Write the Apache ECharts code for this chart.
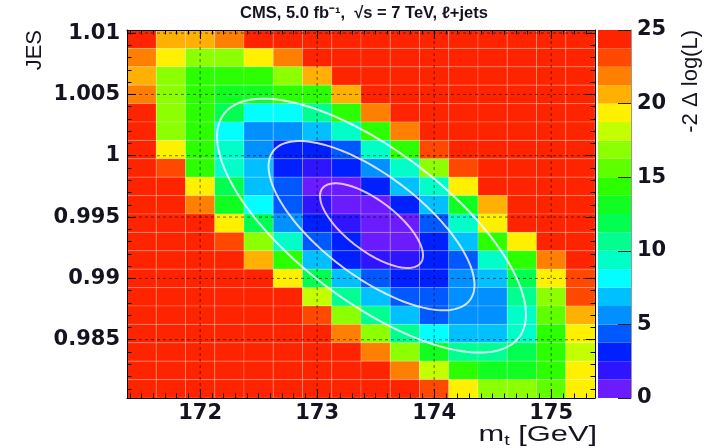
<!DOCTYPE html>
<html><head><meta charset="utf-8">
<script src="https://cdn.jsdelivr.net/npm/echarts@6/dist/echarts.min.js"></script>
<style>html,body{margin:0;padding:0;background:#fff}#c{width:719px;height:448px}</style>
</head><body><div id="c"></div>
<script>
// ---- data ----
const mtBins = [171.5,171.75,172,172.25,172.5,172.75,173,173.25,173.5,173.75,174,174.25,174.5,174.75,175,175.25];
const jesBins = [1.0095,1.008,1.0065,1.005,1.0035,1.002,1.0005,0.999,0.9975,0.996,0.9945,0.993,0.9915,0.99,0.9885,0.987,0.9855,0.984,0.9825,0.981];
// -2 delta log(L), rows follow jesBins (top to bottom), columns follow mtBins
const nll = [
 [25,20.6,20.6,21.9,25,25,25,25,25,25,25,25,25,25,25,25],
 [21.9,19.4,16.9,16.9,19.4,21.9,25,25,25,25,25,25,25,25,25,25],
 [20.6,16.9,14.4,14.4,14.4,16.9,20.6,25,25,25,25,25,25,25,25,25],
 [21.9,16.9,14.4,13.1,13.1,14.4,14.4,20.6,25,25,25,25,25,25,25,25],
 [25,16.9,14.4,11.9,8.1,8.1,10.6,14.4,21.9,25,25,25,25,25,25,25],
 [25,16.9,14.4,8.1,5.6,5.6,6.9,9.4,14.4,21.9,25,25,25,25,25,25],
 [25,19.4,14.4,9.4,5.6,3.1,3.1,4.4,9.4,14.4,23.1,25,25,25,25,25],
 [25,23.1,14.4,9.4,6.9,3.1,1.9,3.1,5.6,9.4,16.9,23.1,25,25,25,25],
 [25,25,19.4,11.9,6.9,4.4,0.6,0.6,3.1,6.9,9.4,19.4,25,25,25,25],
 [25,25,21.9,13.1,8.1,4.4,1.9,0.6,0.6,3.1,6.9,13.1,20.6,25,25,25],
 [25,25,25,19.4,11.9,5.6,3.1,1.9,0.6,0.6,4.4,9.4,19.4,25,25,25],
 [25,25,25,23.1,16.9,9.4,4.4,3.1,0.6,0.6,3.1,6.9,14.4,19.4,25,25],
 [25,25,25,25,20.6,14.4,6.9,3.1,1.9,1.9,3.1,4.4,9.4,14.4,21.9,25],
 [25,25,25,25,25,19.4,11.9,6.9,4.4,3.1,3.1,5.6,6.9,11.9,19.4,23.1],
 [25,25,25,25,25,25,18.1,10.6,6.9,4.4,4.4,5.6,5.6,10.6,16.9,23.1],
 [25,25,25,25,25,25,23.1,16.9,10.6,6.9,4.4,5.6,5.6,9.4,15.6,20.6],
 [25,25,25,25,25,25,25,21.9,16.9,10.6,8.1,6.9,6.9,9.4,14.4,19.4],
 [25,25,25,25,25,25,25,25,21.9,16.9,13.1,10.6,10.6,11.9,14.4,18.1],
 [25,25,25,25,25,25,25,25,25,21.9,18.1,14.4,13.1,13.1,14.4,19.4],
 [25,25,25,25,25,25,25,25,25,25,23.1,19.4,16.9,16.9,15.6,19.4]
];
const xTicks = [172,173,174,175];
const xTickLabels = ['172','173','174','175'];
const yTicks = [0.985,0.99,0.995,1,1.005,1.01];
const yTickLabels = ['0.985','0.99','0.995','1','1.005','1.01'];
const zEdges = [0,1.25,2.5,3.75,5,6.25,7.5,8.75,10,11.25,12.5,13.75,15,16.25,17.5,18.75,20,21.25,22.5,23.75,25];
const zPalette = ['#6a1cff','#2e14ff','#0020ff','#0058ff','#0090ff','#00c0ff','#00ffff','#00ffc8','#00ff90','#00ff50',
                  '#10ff20','#2cff00','#60ff00','#8cff00','#c4ff00','#fff000','#ffb000','#ff8000','#ff4800','#ff2400'];
const zTicks = [0,5,10,15,20,25];
const contourLevels = [1,4,9];
const contourColors = ['rgba(255,215,255,0.85)','rgba(242,242,255,0.85)','rgba(230,255,255,0.9)'];
const fitMt = 173.465, fitJes = 0.9943, sigMt = 0.44, sigJes = 0.00345, rhoFit = -0.7;

// ---- derived ----
const halfMt = Math.abs(mtBins[1]-mtBins[0])/2;
const halfJes = Math.abs(jesBins[0]-jesBins[1])/2;
const xMin = mtBins[0]-halfMt, xMax = mtBins[mtBins.length-1]+halfMt;
const yMin = jesBins[jesBins.length-1]-halfJes, yMax = jesBins[0]+halfJes;
const xMinor = []; for (let v=Math.ceil(xMin*10); v<=Math.floor(xMax*10); v++) xMinor.push(v/10);
const yMinor = []; for (let v=Math.ceil(yMin*1000); v<=Math.floor(yMax*1000); v++) yMinor.push(v/1000);

const cells = [];
jesBins.forEach((y,j)=>mtBins.forEach((x,i)=>cells.push([x,y,nll[j][i]])));

const pieces = zPalette.map((c,k)=> k===zPalette.length-1 ? {gte:zEdges[k], color:c} : {gte:zEdges[k], lt:zEdges[k+1], color:c});

const LAB = {fontFamily:'DejaVu Sans', fontWeight:'bold', fontSize:21, color:'#141420'};
const frameLine = {show:true, onZero:false, lineStyle:{color:'#000', width:1}};
function findLabel(v, ticks, labels){ for (let k=0;k<ticks.length;k++) if (Math.abs(ticks[k]-v)<1e-9) return labels[k]; return ''; }

function xAx(pos, ticks, len, labels, line){
  return {gridIndex:0, type:'value', min:xMin, max:xMax, position:pos, z:10,
    axisLine: line ? frameLine : {show:false, onZero:false},
    axisTick:{show:true, inside:true, length:len, customValues:ticks, lineStyle:{color:'#000', width:1}},
    axisLabel: labels ? Object.assign({show:true, customValues:xTicks, margin:5, formatter:v=>findLabel(v,xTicks,xTickLabels)}, LAB) : {show:false},
    splitLine:{show:false}};
}
function yAx(pos, ticks, len, labels, line){
  return {gridIndex:0, type:'value', min:yMin, max:yMax, position:pos, z:10,
    axisLine: line ? frameLine : {show:false, onZero:false},
    axisTick:{show:true, inside:true, length:len, customValues:ticks, lineStyle:{color:'#000', width:1}},
    axisLabel: labels ? Object.assign({show:true, customValues:yTicks, margin:7, formatter:v=>findLabel(v,yTicks,yTickLabels)}, LAB) : {show:false},
    splitLine:{show:false}};
}
const dashStyle = {stroke:'rgba(0,0,0,0.55)', lineWidth:1, lineDash:[3,3]};

const chart = echarts.init(document.getElementById('c'), null, {renderer:'canvas'});
chart.setOption({
  animation:false,
  backgroundColor:'#fff',
  grid:[
    {left:127, top:30, width:468, height:368},
    {left:598, top:30, width:33, height:368}
  ],
  xAxis:[
    xAx('bottom', xTicks, 9, true, true),
    xAx('bottom', xMinor, 4.5, false, false),
    xAx('top', xTicks, 9, false, true),
    xAx('top', xMinor, 4.5, false, false),
    {gridIndex:1, type:'value', min:0, max:1, show:false}
  ],
  yAxis:[
    yAx('left', yTicks, 9, true, true),
    yAx('left', yMinor, 4.5, false, false),
    yAx('right', yTicks, 9, false, true),
    yAx('right', yMinor, 4.5, false, false),
    {gridIndex:1, type:'value', min:0, max:25, interval:5, position:'right', z:10,
     axisLine:{show:true, onZero:false, lineStyle:{color:'#999', width:1}},
     axisTick:{show:true, inside:true, length:13, lineStyle:{color:'#222', width:1}},
     axisLabel:Object.assign({margin:6}, LAB),
     splitLine:{show:false}}
  ],
  visualMap:{type:'piecewise', show:false, seriesIndex:0, dimension:2, pieces:pieces},
  series:[
    {type:'custom', name:'-2ΔlogL', xAxisIndex:0, yAxisIndex:0, clip:true, data:cells, z:1,
     renderItem:function(params, api){
       const x = api.value(0), y = api.value(1);
       const p0 = api.coord([x-halfMt, y+halfJes]);
       const p1 = api.coord([x+halfMt, y-halfJes]);
       return {type:'rect', shape:{x:p0[0], y:p0[1], width:p1[0]-p0[0], height:p1[1]-p0[1]},
               style:{fill:api.visual('color'), stroke:'rgba(255,255,255,0.25)', lineWidth:0.8}};
     }},
    {type:'custom', name:'scale', xAxisIndex:4, yAxisIndex:4, silent:true, z:1,
     data: zPalette.map((c,k)=>[0.5, zEdges[k], zEdges[k+1]]),
     renderItem:function(params, api){
       const p0 = api.coord([0, api.value(2)]);
       const p1 = api.coord([1, api.value(1)]);
       return {type:'rect', shape:{x:p0[0], y:p0[1], width:p1[0]-p0[0], height:p1[1]-p0[1]},
               style:{fill:zPalette[params.dataIndex], stroke:null}};
     }},
    {type:'custom', name:'gridX', xAxisIndex:0, yAxisIndex:0, silent:true, z:3,
     data: xTicks.map(v=>[v, yMin]),
     renderItem:function(params, api){
       const a = api.coord([api.value(0), yMin]), b = api.coord([api.value(0), yMax]);
       return {type:'line', shape:{x1:a[0], y1:a[1], x2:b[0], y2:b[1]}, style:dashStyle};
     }},
    {type:'custom', name:'gridY', xAxisIndex:0, yAxisIndex:0, silent:true, z:3,
     data: yTicks.map(v=>[xMin, v]),
     renderItem:function(params, api){
       const a = api.coord([xMin, api.value(1)]), b = api.coord([xMax, api.value(1)]);
       return {type:'line', shape:{x1:a[0], y1:a[1], x2:b[0], y2:b[1]}, style:dashStyle};
     }},
    {type:'custom', name:'contours', xAxisIndex:0, yAxisIndex:0, clip:true, silent:true, z:5,
     data: contourLevels.map(l=>[fitMt, fitJes, l]),
     renderItem:function(params, api){
       const r = Math.sqrt(api.value(2));
       const pts = [];
       const n = 180;
       for (let k=0;k<n;k++){
         const t = 2*Math.PI*k/n;
         const dx = sigMt*r*Math.cos(t);
         const dy = sigJes*r*(rhoFit*Math.cos(t) + Math.sqrt(1-rhoFit*rhoFit)*Math.sin(t));
         pts.push(api.coord([api.value(0)+dx, api.value(1)+dy]));
       }
       return {type:'polygon', shape:{points:pts},
               style:{fill:'none', stroke:contourColors[params.dataIndex], lineWidth:2}};
     }}
  ],
  graphic:[
    {type:'text', x:364, y:13, style:{text:'CMS, 5.0 fb⁻¹,  √s = 7 TeV, ℓ+jets', font:'bold 16.5px "Liberation Sans", Arial, sans-serif', fill:'#141420', textAlign:'center', textVerticalAlign:'middle'}},
    {type:'text', x:35, y:30, rotation:Math.PI/2, style:{text:'JES', font:'22px "Liberation Sans", Arial, sans-serif', fill:'#141420', textAlign:'right', textVerticalAlign:'middle'}},
    {type:'text', x:691, y:30, rotation:Math.PI/2, style:{text:'-2 Δ log(L)', font:'22px "Liberation Sans", Arial, sans-serif', fill:'#141420', textAlign:'right', textVerticalAlign:'middle'}},
    {type:'text', x:597, y:435, scaleX:1.4, style:{text:'{n|m}{s|t}{n| [GeV]}', textAlign:'right', textVerticalAlign:'middle', fill:'#141420',
      rich:{n:{fontFamily:'Liberation Sans', fontSize:22, lineHeight:26, fill:'#141420'}, s:{fontFamily:'Liberation Sans', fontSize:14, lineHeight:12, verticalAlign:'bottom', fill:'#141420'}}}}
  ]
});
</script>
</body></html>
